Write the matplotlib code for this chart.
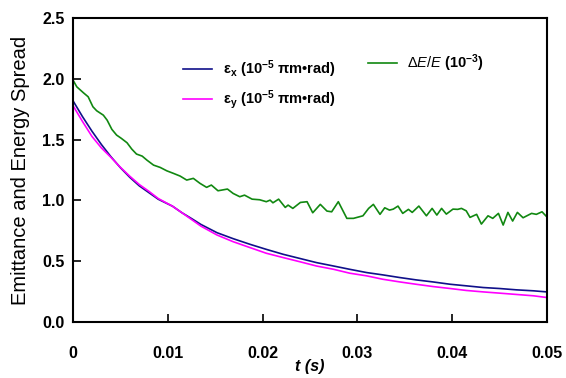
import matplotlib
matplotlib.use("Agg")
from matplotlib import pyplot as plt

plt.rcParams["font.family"] = ["Liberation Sans", "DejaVu Sans"]
plt.rcParams["mathtext.fontset"] = "custom"
plt.rcParams["mathtext.rm"] = "Liberation Sans"
plt.rcParams["mathtext.it"] = "Liberation Sans:italic"
plt.rcParams["mathtext.bf"] = "Liberation Sans:bold"

# Emittance curves
t_eps = [0, 0.001, 0.002, 0.003, 0.004, 0.005, 0.006, 0.007, 0.008, 0.009,
         0.0105, 0.0115, 0.0125, 0.0135, 0.0152, 0.0169, 0.0187, 0.0204,
         0.0222, 0.024, 0.0257, 0.0275, 0.0292, 0.031, 0.0327, 0.0345,
         0.0362, 0.038, 0.0398, 0.0415, 0.0433, 0.045, 0.0468, 0.0486, 0.05]
eps_x = [1.82, 1.69, 1.57, 1.46, 1.36, 1.27, 1.19, 1.12, 1.065, 1.01,
         0.953, 0.899, 0.852, 0.803, 0.735, 0.686, 0.639, 0.598,
         0.557, 0.522, 0.489, 0.461, 0.434, 0.407, 0.388, 0.366,
         0.347, 0.330, 0.311, 0.298, 0.284, 0.276, 0.265, 0.257, 0.248]
eps_y = [1.78, 1.65, 1.527, 1.432, 1.355, 1.273, 1.199, 1.131, 1.076, 1.016,
         0.953, 0.899, 0.844, 0.789, 0.716, 0.661, 0.612, 0.566,
         0.530, 0.495, 0.461, 0.434, 0.402, 0.380, 0.352, 0.330,
         0.311, 0.292, 0.276, 0.260, 0.248, 0.238, 0.227, 0.216, 0.202]

# Energy spread (noisy)
t_de = [0, 0.0004, 0.0011, 0.0016, 0.0021, 0.0025, 0.0032, 0.0036, 0.0041,
        0.0046, 0.0051, 0.0057, 0.0062, 0.0067, 0.0073, 0.0078, 0.0085,
        0.0092, 0.0099, 0.0106, 0.0113, 0.012, 0.0127, 0.0134, 0.0141,
        0.0146, 0.0153, 0.0163, 0.0169, 0.0176, 0.0181, 0.0189, 0.0197,
        0.0204, 0.0208, 0.0211, 0.0217, 0.0224, 0.0227, 0.0232, 0.024,
        0.0247, 0.0253, 0.0261, 0.0268, 0.0273, 0.028, 0.0289, 0.0296,
        0.0306, 0.0312, 0.0317, 0.0324, 0.0329, 0.0334, 0.0338, 0.0343,
        0.0348, 0.0354, 0.0358, 0.0365, 0.0373, 0.0379, 0.0384, 0.0389,
        0.0394, 0.0401, 0.0406, 0.041, 0.0415, 0.0419, 0.0426, 0.0431,
        0.0438, 0.0443, 0.0449, 0.0454, 0.0459, 0.0464, 0.0469, 0.0475,
        0.0484, 0.0489, 0.0495, 0.05]
de_e = [1.99, 1.935, 1.886, 1.853, 1.771, 1.738, 1.702, 1.661, 1.585,
        1.538, 1.511, 1.475, 1.423, 1.382, 1.365, 1.332, 1.291,
        1.272, 1.244, 1.223, 1.201, 1.168, 1.182, 1.141, 1.108,
        1.127, 1.080, 1.094, 1.058, 1.031, 1.044, 1.011, 1.006,
        0.990, 1.003, 0.981, 1.011, 0.943, 0.962, 0.935, 0.984,
        0.990, 0.899, 0.968, 0.913, 0.907, 0.990, 0.853, 0.853,
        0.874, 0.935, 0.968, 0.886, 0.940, 0.921, 0.929, 0.954,
        0.894, 0.927, 0.902, 0.954, 0.874, 0.935, 0.880, 0.935,
        0.888, 0.929, 0.927, 0.935, 0.915, 0.861, 0.886, 0.806,
        0.874, 0.853, 0.894, 0.798, 0.902, 0.831, 0.902, 0.858,
        0.894, 0.886, 0.907, 0.866]

xticks = [0, 0.01, 0.02, 0.03, 0.04, 0.05]
xticklabels = ["0", "0.01", "0.02", "0.03", "0.04", "0.05"]
yticks = [0, 0.5, 1.0, 1.5, 2.0, 2.5]

fig = plt.figure(figsize=(5.66, 3.78), dpi=100)
ax = fig.add_axes([0.129, 0.148, 0.837, 0.804])

lx, = ax.plot(t_eps, eps_x, color="#10108a", lw=1.2,
              label=r"ε$_\mathbf{x}$ (10$^\mathbf{-5}$ πm•rad)")
ly, = ax.plot(t_eps, eps_y, color="#ff00ff", lw=1.2,
              label=r"ε$_\mathbf{y}$ (10$^\mathbf{-5}$ πm•rad)")
lg, = ax.plot(t_de, de_e, color="#118811", lw=1.2,
              label=r"$\mathbf{\it{\Delta E/E}}$ (10$^\mathbf{-3}$)")

ax.set_xlim(0, 0.05)
ax.set_ylim(0, 2.5)
ax.set_xticks(xticks)
ax.set_xticklabels(xticklabels)
ax.set_yticks(yticks)
ax.set_yticklabels([f"{v:.1f}" for v in yticks])
ax.tick_params(direction="in", length=6, width=1.2, labelsize=11.5)
ax.tick_params(axis="x", pad=17)
ax.tick_params(axis="y", pad=6)
for lab in ax.get_xticklabels() + ax.get_yticklabels():
    lab.set_fontweight("bold")
for s in ax.spines.values():
    s.set_linewidth(1.5)

ax.set_xlabel("t (s)", fontsize=11.5, fontweight="bold", style="italic", labelpad=-1)
ax.set_ylabel("Emittance and Energy Spread", fontsize=14.5, labelpad=9)

leg1 = ax.legend(handles=[lx, ly], loc="upper left", bbox_to_anchor=(0.205, 0.91),
                 frameon=False, prop={"size": 10.5, "weight": "bold"},
                 handlelength=2.0, handletextpad=0.7, labelspacing=0.55)
ax.add_artist(leg1)
ax.legend(handles=[lg], loc="upper left", bbox_to_anchor=(0.595, 0.93),
          frameon=False, prop={"size": 10.5, "weight": "bold"},
          handlelength=2.0, handletextpad=0.7)

fig.savefig("out.png", dpi=100)
